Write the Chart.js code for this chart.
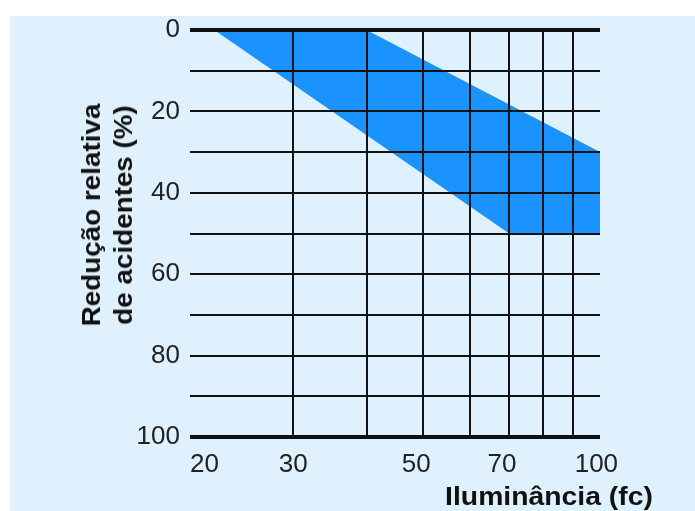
<!DOCTYPE html>
<html>
<head>
<meta charset="utf-8">
<script src="https://cdn.jsdelivr.net/npm/chart.js@4.4.1/dist/chart.umd.min.js"></script>
<style>
  html, body { margin: 0; padding: 0; background: #ffffff; }
  #wrap { position: relative; width: 695px; height: 511px; overflow: hidden; }
  #bg { position: absolute; left: 10px; top: 16px; right: 0; bottom: 0; background: #dff0fe; }
  #c { position: absolute; left: 0; top: 0; }
  .title { position: absolute; font-family: "Liberation Sans", Arial, sans-serif; font-weight: bold; color: #111; white-space: nowrap; font-size: 26px; }
  #ytitle { left: 107px; top: 215px; line-height: 32px; text-align: center; transform: translate(-50%, -50%) rotate(-90deg) scaleX(1.07); }
  #xtitle { left: 549px; top: 481px; transform: translateX(-50%) scaleX(1.09); }
</style>
</head>
<body>
<div id="wrap">
  <div id="bg"></div>
  <canvas id="c" width="695" height="511"></canvas>
  <div class="title" id="ytitle">Redução relativa<br>de acidentes (%)</div>
  <div class="title" id="xtitle">Iluminância (fc)</div>
</div>
<script>
// Band outline (illuminance fc, relative accident reduction %)
const bandX = [22, 40, 100, 100, 70, 22];
const bandY = [0, 0, 30, 50, 50, 0];
// Axis ticks
const xGridTicks = [20, 30, 40, 50, 60, 70, 80, 90, 100];
const xLabelTicks = [20, 30, 50, 70, 100];
const yLabelTicks = [0, 20, 40, 60, 80, 100];

// small label nudges so labels sit like the original
const xLabelText = { 20: '    20', 30: '30', 50: '50  ', 70: '70  ', 100: '100 ' };

const points = bandX.map((x, i) => ({ x: x, y: bandY[i] }));

new Chart(document.getElementById('c'), {
  type: 'line',
  data: {
    datasets: [{
      data: points,
      fill: 'shape',
      backgroundColor: '#1b93fe',
      borderWidth: 0,
      borderColor: '#1b93fe',
      pointRadius: 0,
      tension: 0
    }]
  },
  options: {
    responsive: false,
    animation: false,
    layout: { padding: { left: 0, right: 95, top: 30, bottom: 0 } },
    plugins: { legend: { display: false }, tooltip: { enabled: false } },
    scales: {
      x: {
        type: 'logarithmic',
        min: 20,
        max: 100,
        afterBuildTicks: (scale) => { scale.ticks = xGridTicks.map(v => ({ value: v })); },
        afterFit: (scale) => { scale.height = 74; },
        grid: {
          z: 1,
          drawTicks: false,
          lineWidth: 2,
          color: (ctx) => (ctx.tick && (ctx.tick.value === 20 || ctx.tick.value === 100)) ? 'rgba(0,0,0,0)' : '#111'
        },
        border: { display: false },
        ticks: {
          autoSkip: false,
          maxRotation: 0,
          padding: 12,
          color: '#222',
          font: { family: '"Liberation Sans", Arial, sans-serif', size: 26 },
          callback: (v) => xLabelTicks.includes(v) ? xLabelText[v] : ''
        }
      },
      y: {
        type: 'linear',
        reverse: true,
        min: 0,
        max: 100,
        afterFit: (scale) => { scale.width = 190; },
        grid: {
          z: 1,
          drawTicks: false,
          color: '#111',
          lineWidth: (ctx) => (ctx.tick && (ctx.tick.value === 0 || ctx.tick.value === 100)) ? 4 : 2
        },
        border: { display: false },
        ticks: {
          stepSize: 10,
          padding: 10,
          color: '#222',
          font: { family: '"Liberation Sans", Arial, sans-serif', size: 26 },
          callback: (v) => yLabelTicks.includes(v) ? String(v) : ''
        }
      }
    }
  }
});
</script>
</body>
</html>
